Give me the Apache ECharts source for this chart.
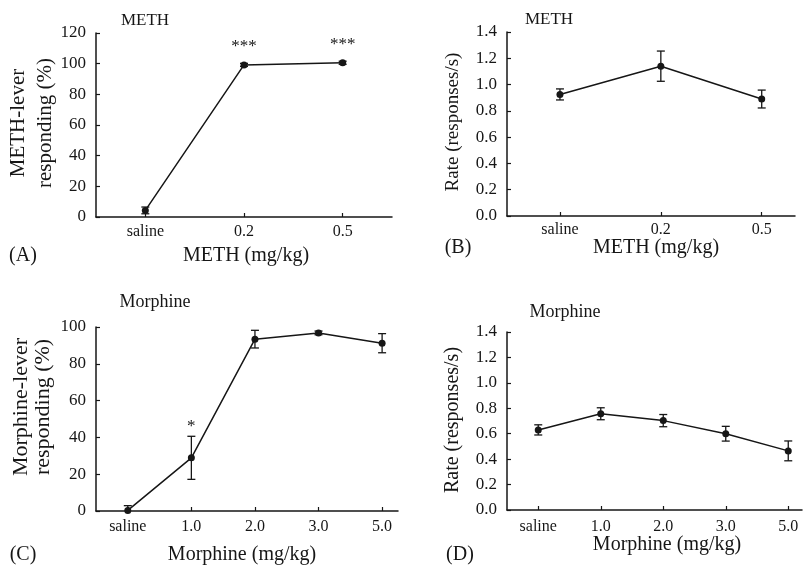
<!DOCTYPE html>
<html>
<head>
<meta charset="utf-8">
<title>METH / Morphine discrimination</title>
<script src="https://cdn.jsdelivr.net/npm/echarts@6/dist/echarts.min.js"></script>
<style>
  html, body { margin: 0; padding: 0; background: #fff; }
  #main { width: 804px; height: 565px; }
</style>
</head>
<body>
<div id="main"></div>
<script>
// ---- data ----
var methDoses = ['saline', '0.2', '0.5'];
var methResp = [4.3, 99.2, 100.6];      // % METH-lever responding
var methRespErr = [2.2, 1.0, 1.0];
var methSig = ['', '***', '***'];
var methRate = [0.925, 1.14, 0.89];      // responses/s
var methRateErr = [0.042, 0.115, 0.068];

var morDoses = ['saline', '1.0', '2.0', '3.0', '5.0'];
var morResp = [0.3, 28.9, 93.4, 96.8, 91.2];
var morRespErr = [2.6, 11.7, 4.8, 1.0, 5.2];
var morSig = ['', '*', '***', '***', '***'];
var morRate = [0.63, 0.757, 0.703, 0.60, 0.465];
var morRateErr = [0.04, 0.047, 0.048, 0.058, 0.078];

var FONT = 'Liberation Serif';
var INK = '#161616';

var myChart = echarts.init(document.getElementById('main'));

function pts(values) {
  return values.map(function (v, i) { return [i, v]; });
}

function idx(cats) {
  return cats.map(function (c, i) { return i; });
}

function xAxisFor(gi, cats, min, max, margin) {
  return {
    type: 'value', gridIndex: gi, min: min, max: max,
    splitLine: { show: false },
    axisLine: { onZero: false, lineStyle: { color: INK, width: 1.5 } },
    axisTick: { inside: true, length: 4, customValues: idx(cats), lineStyle: { color: INK, width: 1.2 } },
    axisLabel: {
      customValues: idx(cats), margin: margin, color: INK, fontFamily: FONT, fontSize: 16,
      formatter: function (v) { return cats[Math.round(v)]; }
    }
  };
}

function yAxisFor(gi, max, step, digits) {
  return {
    type: 'value', gridIndex: gi, min: 0, max: max, interval: step,
    splitLine: { show: false },
    axisLine: { show: true, onZero: false, lineStyle: { color: INK, width: 1.5 } },
    axisTick: { show: true, inside: true, length: 4, lineStyle: { color: INK, width: 1.2 } },
    axisLabel: {
      margin: 10, color: INK, fontFamily: FONT, fontSize: 17,
      formatter: function (v) { return v.toFixed(digits); }
    }
  };
}

function lineSeries(gi, values) {
  return {
    type: 'line', xAxisIndex: gi, yAxisIndex: gi, data: pts(values),
    symbol: 'circle', symbolSize: 7, z: 4,
    itemStyle: { color: INK },
    lineStyle: { color: INK, width: 1.5 },
    animation: false
  };
}

// error bars with caps, plus significance stars above the cap
function errSeries(gi, values, errs, sig, starGap) {
  return {
    type: 'custom', xAxisIndex: gi, yAxisIndex: gi, z: 3, silent: true, clip: true,
    data: values.map(function (v, i) { return [i, v - errs[i], v + errs[i]]; }),
    renderItem: function (params, api) {
      var lo = api.coord([api.value(0), api.value(1)]);
      var hi = api.coord([api.value(0), api.value(2)]);
      var w = 4;
      var st = { stroke: INK, lineWidth: 1.3 };
      var kids = [
        { type: 'line', shape: { x1: hi[0], y1: hi[1], x2: lo[0], y2: lo[1] }, style: st },
        { type: 'line', shape: { x1: hi[0] - w, y1: hi[1], x2: hi[0] + w, y2: hi[1] }, style: st },
        { type: 'line', shape: { x1: lo[0] - w, y1: lo[1], x2: lo[0] + w, y2: lo[1] }, style: st }
      ];
      var s = sig ? sig[params.dataIndex] : '';
      if (s) {
        kids.push({
          type: 'text', x: hi[0], y: hi[1] - starGap,
          style: { text: s, fill: INK, font: '17px "' + FONT + '"', align: 'center', verticalAlign: 'bottom' }
        });
      }
      return { type: 'group', children: kids };
    },
    animation: false
  };
}

function label(text, x, y, size, rot, lh) {
  return {
    type: 'text', x: x, y: y, rotation: rot || 0,
    style: {
      text: text, fill: INK, font: size + 'px "' + FONT + '"',
      align: 'center', verticalAlign: 'middle', lineHeight: lh || size
    }
  };
}

var option = {
  backgroundColor: '#fff',
  animation: false,
  grid: [
    { left: 96, top: 33, width: 296, height: 184 },
    { left: 507, top: 32, width: 288, height: 184 },
    { left: 96, top: 327, width: 302, height: 184 },
    { left: 507, top: 332, width: 295, height: 178 }
  ],
  xAxis: [
    xAxisFor(0, methDoses, -0.5, 2.5, 7),
    xAxisFor(1, methDoses, -0.525, 2.33, 6),
    xAxisFor(2, morDoses, -0.5, 4.25, 8),
    xAxisFor(3, morDoses, -0.5, 4.22, 9)
  ],
  yAxis: [
    yAxisFor(0, 120, 20, 0),
    yAxisFor(1, 1.4, 0.2, 1),
    yAxisFor(2, 100, 20, 0),
    yAxisFor(3, 1.4, 0.2, 1)
  ],
  series: [
    errSeries(0, methResp, methRespErr, methSig, 8),
    lineSeries(0, methResp),
    errSeries(1, methRate, methRateErr, null, 0),
    lineSeries(1, methRate),
    errSeries(2, morResp, morRespErr, morSig, 1),
    lineSeries(2, morResp),
    errSeries(3, morRate, morRateErr, null, 0),
    lineSeries(3, morRate)
  ],
  graphic: [
    // panel headings
    label('METH', 145, 21, 17),
    label('METH', 549, 20, 17),
    label('Morphine', 155, 302, 18),
    label('Morphine', 565, 312, 18),
    // panel letters
    label('(A)', 23, 256, 20),
    label('(B)', 458, 248, 20),
    label('(C)', 23, 555, 20),
    label('(D)', 460, 555, 20),
    // x-axis titles
    label('METH (mg/kg)', 246, 256, 20),
    label('METH (mg/kg)', 656, 248, 20),
    label('Morphine (mg/kg)', 242, 555, 20),
    label('Morphine (mg/kg)', 667, 545, 20),
    // y-axis titles
    label('METH-lever\nresponding (%)', 31.5, 123, 21, Math.PI / 2, 27),
    label('Rate (responses/s)', 453, 122, 19, Math.PI / 2),
    label('Morphine-lever\nresponding (%)', 32.5, 407, 22, Math.PI / 2, 22),
    label('Rate (responses/s)', 453, 420, 20, Math.PI / 2)
  ]
};

myChart.setOption(option);
</script>
</body>
</html>
